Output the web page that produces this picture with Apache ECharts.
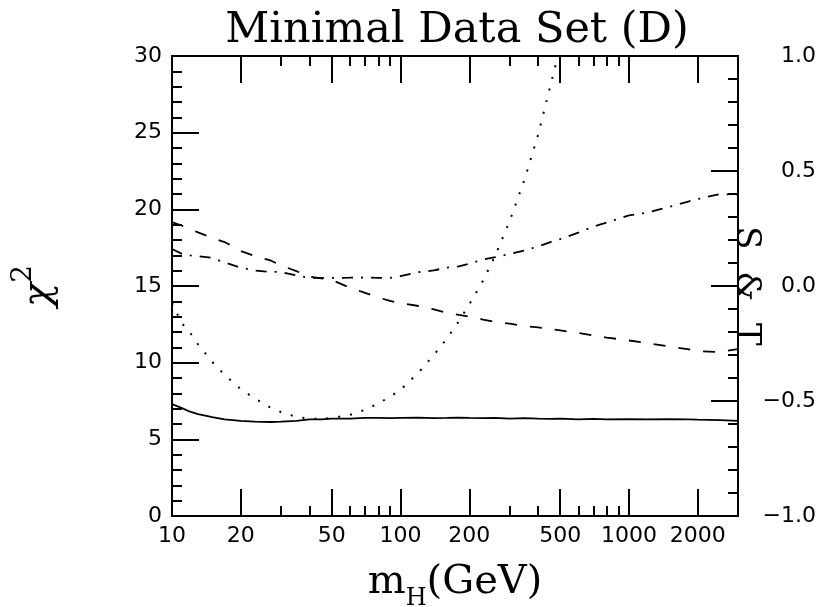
<!DOCTYPE html>
<html>
<head>
<meta charset="utf-8">
<script src="https://cdn.jsdelivr.net/npm/echarts@6/dist/echarts.min.js"></script>
<style>html,body{margin:0;padding:0;background:#fff;}#c{width:822px;height:607px;}</style>
</head>
<body>
<div id="c"></div>
<script>
// Higgs mass grid (GeV)
const massGeV = [10, 11, 12, 13, 15, 17, 20, 23, 27, 30, 35, 40, 45, 50, 60, 70, 80, 90, 100, 120, 140, 160, 180, 200, 230, 260, 300, 350, 400, 450, 500, 600, 700, 800, 1000, 1200, 1500, 1800, 2000, 2500, 3000];
// chi^2 (solid)
const chiSqSolid = [7.3, 7.05, 6.8, 6.65, 6.45, 6.3, 6.2, 6.15, 6.13, 6.15, 6.2, 6.3, 6.3, 6.35, 6.35, 6.4, 6.4, 6.38, 6.4, 6.42, 6.38, 6.4, 6.42, 6.4, 6.38, 6.4, 6.35, 6.38, 6.35, 6.33, 6.35, 6.3, 6.33, 6.3, 6.32, 6.3, 6.32, 6.3, 6.28, 6.25, 6.2];
// chi^2 (dotted)
const chiSqDotted = [13.9, 12.6, 11.95, 11.2, 10.05, 9.2, 8.27, 7.67, 7.06, 6.78, 6.46, 6.35, 6.33, 6.39, 6.59, 6.93, 7.34, 7.78, 8.23, 9.36, 10.5, 11.6, 12.7, 13.8, 15.35, 17.0, 19.2, 22.0, 24.85, 27.9, 30.6, null, null, null, null, null, null, null, null, null, null];
// T (dashed), right axis
const tDashed = [0.278, 0.263, 0.248, 0.233, 0.209, 0.191, 0.152, 0.130, 0.111, 0.089, 0.065, 0.041, 0.033, 0.026, -0.007, -0.030, -0.050, -0.065, -0.074, -0.087, -0.102, -0.117, -0.126, -0.133, -0.146, -0.156, -0.164, -0.174, -0.180, -0.187, -0.193, -0.204, -0.215, -0.224, -0.237, -0.248, -0.263, -0.274, -0.283, -0.287, -0.274];
// S (dash-dot), right axis
const sDashDot = [0.161, 0.141, 0.133, 0.130, 0.122, 0.102, 0.080, 0.067, 0.061, 0.061, 0.046, 0.035, 0.035, 0.035, 0.036, 0.037, 0.035, 0.035, 0.043, 0.060, 0.068, 0.080, 0.085, 0.097, 0.115, 0.126, 0.139, 0.155, 0.172, 0.190, 0.204, 0.232, 0.259, 0.276, 0.307, 0.319, 0.344, 0.366, 0.378, 0.400, 0.396];
// tick values
const xMajorTicks = [10, 20, 50, 100, 200, 500, 1000, 2000];
const xMinorTicks = [30, 40, 60, 70, 80, 90, 300, 400, 600, 700, 800, 900];

function pairs(ys) {
  const out = [];
  massGeV.forEach((m, i) => { if (ys[i] !== null && ys[i] !== undefined) out.push([m, ys[i]]); });
  return out;
}
const BLACK = '#000';
function xAx(pos, ticks, len, withLabels) {
  return {
    type: 'log', logBase: 10, min: 10, max: 3000, position: pos, gridIndex: 0,
    axisLine: { show: true, onZero: false, lineStyle: { color: BLACK, width: 2 } },
    axisTick: { show: true, inside: true, length: len, customValues: ticks, lineStyle: { color: BLACK, width: 2 } },
    axisLabel: withLabels ? {
      show: true, customValues: ticks, margin: 9, color: BLACK,
      fontFamily: 'DejaVu Sans', fontSize: 22,
      formatter: v => String(Math.round(v))
    } : { show: false },
    splitLine: { show: false }, minorTick: { show: false }, minorSplitLine: { show: false }
  };
}
const xAxes = [
  xAx('bottom', xMajorTicks, 27, true),
  xAx('bottom', xMinorTicks, 10, false),
  xAx('top', xMajorTicks, 27, false),
  xAx('top', xMinorTicks, 10, false)
];
xAxes[0].name = '{m|m}{s|H}{m|(GeV)}';
xAxes[0].nameLocation = 'middle';
xAxes[0].nameGap = 47;
xAxes[0].nameMoveOverlap = false;
xAxes[0].nameTextStyle = {
  rich: {
    m: { fontFamily: 'DejaVu Serif', fontSize: 40, color: BLACK, verticalAlign: 'bottom' },
    s: { fontFamily: 'DejaVu Serif', fontSize: 24, color: BLACK, verticalAlign: 'bottom', padding: [0, 0, -8, 0] }
  }
};

const chart = echarts.init(document.getElementById('c'), null, { renderer: 'canvas' });
chart.setOption({
  backgroundColor: '#fff',
  animation: false,
  title: {
    text: 'Minimal Data Set (D)', left: 452, top: 4, textAlign: 'center',
    textStyle: { fontFamily: 'DejaVu Serif', fontSize: 43, fontWeight: 'normal', color: BLACK }
  },
  grid: { left: 172, right: 84, top: 56, bottom: 91, show: true, borderColor: BLACK, borderWidth: 2, containLabel: false, outerBoundsMode: 'none' },
  xAxis: xAxes,
  yAxis: [
    {
      type: 'value', min: 0, max: 30, interval: 5, position: 'left',
      name: '{x|χ}{t|2}', nameLocation: 'middle', nameGap: 112, nameRotate: 90, nameMoveOverlap: false,
      nameTextStyle: { rich: {
        x: { fontFamily: 'DejaVu Serif', fontSize: 40, fontStyle: 'italic', color: BLACK, verticalAlign: 'bottom' },
        t: { fontFamily: 'DejaVu Serif', fontSize: 28, color: BLACK, verticalAlign: 'bottom', padding: [0, 0, 22, 0] }
      } },
      axisLine: { show: true, lineStyle: { color: BLACK, width: 2 } },
      axisTick: { show: true, inside: true, length: 27, lineStyle: { color: BLACK, width: 2 } },
      minorTick: { show: true, splitNumber: 5, length: 10, lineStyle: { color: BLACK, width: 2 } },
      axisLabel: { show: true, margin: 10, color: BLACK, fontFamily: 'DejaVu Sans', fontSize: 22 },
      splitLine: { show: false }, minorSplitLine: { show: false }
    },
    {
      type: 'value', min: -1, max: 1, interval: 0.5, position: 'right',
      name: 'S  &  T', nameLocation: 'middle', nameGap: -9, nameRotate: -90, nameMoveOverlap: false,
      nameTextStyle: { fontFamily: 'DejaVu Serif', fontSize: 34, color: BLACK },
      axisLine: { show: true, lineStyle: { color: BLACK, width: 2 } },
      axisTick: { show: true, inside: true, length: 27, lineStyle: { color: BLACK, width: 2 } },
      minorTick: { show: true, splitNumber: 5, length: 10, lineStyle: { color: BLACK, width: 2 } },
      axisLabel: {
        show: true, margin: 78, align: 'right', color: BLACK, fontFamily: 'DejaVu Sans', fontSize: 22,
        formatter: v => v.toFixed(1).replace('-', '\u2212')
      },
      splitLine: { show: false }, minorSplitLine: { show: false }
    }
  ],
  series: [
    { name: 'chi2 solid', type: 'line', xAxisIndex: 0, yAxisIndex: 0, data: pairs(chiSqSolid), showSymbol: false, symbol: 'none', clip: true,
      lineStyle: { color: BLACK, width: 1.8, type: 'solid' } },
    { name: 'chi2 dotted', type: 'line', xAxisIndex: 0, yAxisIndex: 0, data: pairs(chiSqDotted), showSymbol: false, symbol: 'none', clip: true,
      lineStyle: { color: BLACK, width: 2, type: [2, 10] } },
    { name: 'T', type: 'line', xAxisIndex: 0, yAxisIndex: 1, data: pairs(tDashed), showSymbol: false, symbol: 'none', clip: true,
      lineStyle: { color: BLACK, width: 1.8, type: [12, 13] } },
    { name: 'S', type: 'line', xAxisIndex: 0, yAxisIndex: 1, data: pairs(sDashDot), showSymbol: false, symbol: 'none', clip: true,
      lineStyle: { color: BLACK, width: 1.8, type: [11, 8, 2, 8] } }
  ]
});
</script>
</body>
</html>
